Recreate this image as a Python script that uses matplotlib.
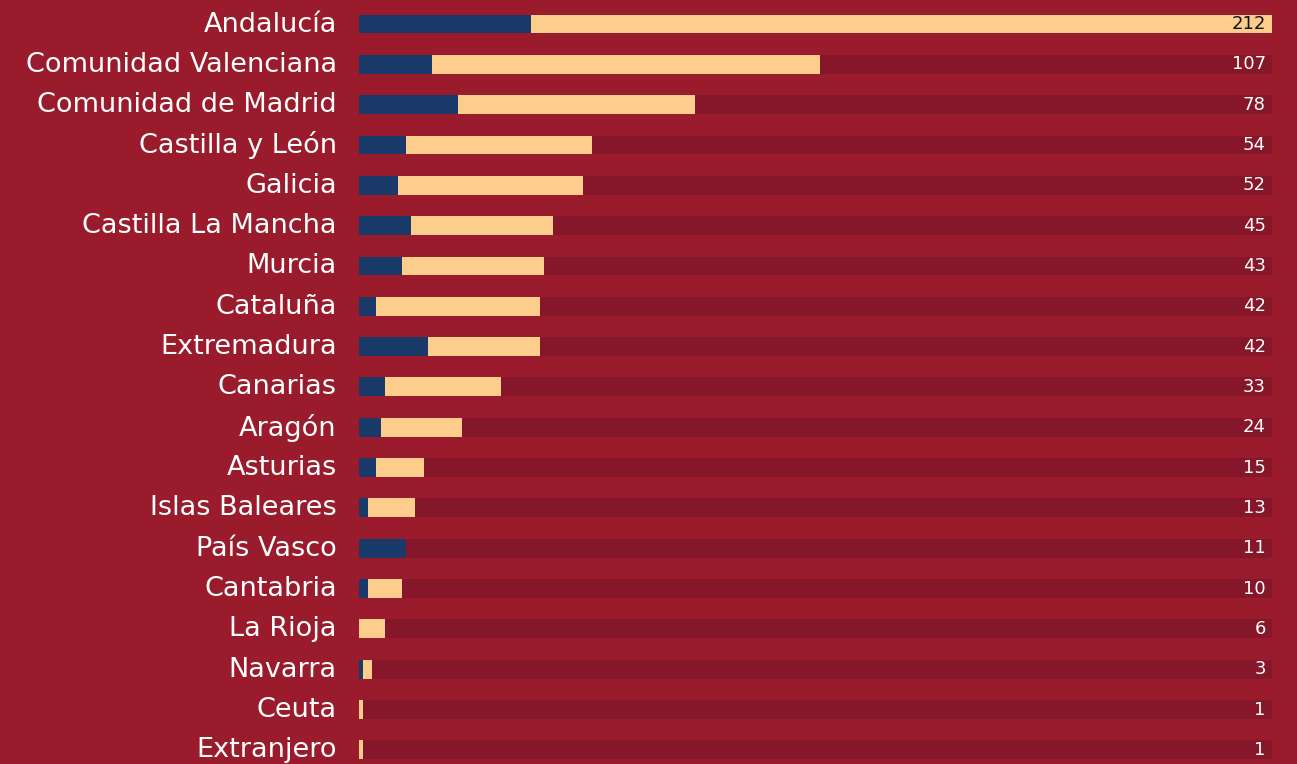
import matplotlib.pyplot as plt
import matplotlib.transforms as mtransforms

regions = ["Andalucía", "Comunidad Valenciana", "Comunidad de Madrid", "Castilla y León",
           "Galicia", "Castilla La Mancha", "Murcia", "Cataluña", "Extremadura", "Canarias",
           "Aragón", "Asturias", "Islas Baleares", "País Vasco", "Cantabria", "La Rioja",
           "Navarra", "Ceuta", "Extranjero"]
navy_part = [40, 17, 23, 11, 9, 12, 10, 4, 16, 6, 5, 4, 2, 11, 2, 0, 1, 0, 0]
totals = [212, 107, 78, 54, 52, 45, 43, 42, 42, 33, 24, 15, 13, 11, 10, 6, 3, 1, 1]

BG = "#9A1B2C"
TRACK = "#861629"
NAVY = "#1A3A69"
PEACH = "#FDCD8B"

W, H = 1297, 764
fig = plt.figure(figsize=(W / 100, H / 100), dpi=100, facecolor=BG)
n = len(regions)
row = 40.33
ax_h = n * row
ax_left, ax_right = 359, 1272
ax = fig.add_axes([ax_left / W, (H - (24 - row / 2) - ax_h) / H, (ax_right - ax_left) / W, ax_h / H])
ax.set_facecolor(BG)
xmax = max(totals)
ys = list(range(n))
bh = 0.47
peach_part = [t - nv for t, nv in zip(totals, navy_part)]
ax.barh(ys, [xmax] * n, height=bh, color=TRACK, linewidth=0)
ax.barh(ys, navy_part, height=bh, color=NAVY, linewidth=0)
ax.barh(ys, peach_part, left=navy_part, height=bh, color=PEACH, linewidth=0)
ax.set_xlim(0, xmax)
ax.set_ylim(n - 0.5, -0.5)
for s in ax.spines.values():
    s.set_visible(False)
ax.set_xticks([])
ax.set_yticks(ys)
ax.set_yticklabels(regions, fontsize=19.5, color="white")
ax.tick_params(axis="y", length=0, pad=16)
shift = mtransforms.ScaledTranslation(0, 2.5 / 100, fig.dpi_scale_trans)
for lbl in ax.get_yticklabels():
    lbl.set_transform(lbl.get_transform() + shift)
for y, t in zip(ys, totals):
    col = "#111111" if t >= xmax else "white"
    ax.text(xmax * 0.9965 - 0.7, y, str(t), ha="right", va="center", fontsize=13, color=col)

fig.savefig("out.png", dpi=100, facecolor=BG)
